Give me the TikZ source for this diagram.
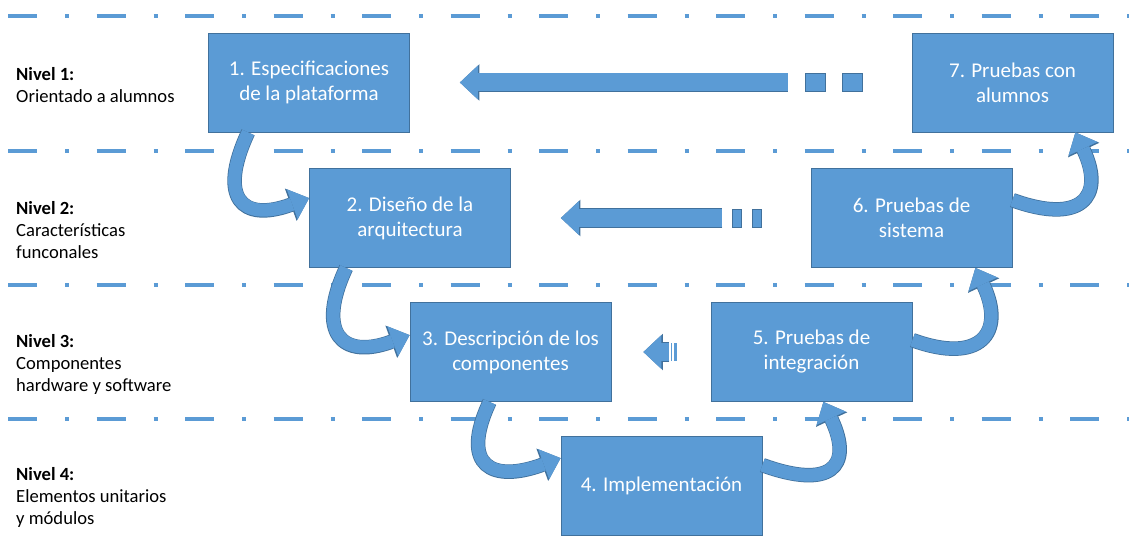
\documentclass[tikz,border=0pt]{standalone}
\usepackage{fontspec}
\setmainfont{Carlito}
\usetikzlibrary{positioning,calc,arrows.meta}
\definecolor{azul}{HTML}{5B9BD5}
\definecolor{azulosc}{HTML}{41719C}

\begin{document}
\begin{tikzpicture}[x=1pt,y=1pt,
   caja/.style={draw=azulosc,fill=azul,line width=0.8pt,text=white,align=center,minimum width=201pt,minimum height=99pt,inner sep=2pt,font=\fontsize{21}{25}\selectfont},
   nivel/.style={anchor=west,align=left,inner sep=0pt,font=\fontsize{18.6}{22}\selectfont},
   sep/.style={azul,line width=4pt,dash pattern=on 29pt off 28pt on 4pt off 27.5pt},
   cuad/.style={fill=azul,draw=azulosc,line width=0.5pt,minimum height=18pt,inner sep=0pt},
   flecha/.style={azul,line width=18pt,-{Triangle[width=34pt,length=18pt,line width=0pt]},
      preaction={draw=azulosc,line width=19.5pt,-{Triangle[width=36.5pt,length=19.5pt,line width=0pt]}}},
   curva/.style={azul,line width=13pt,-{Triangle[width=32pt,length=18pt,line width=0pt]},
      preaction={draw=azulosc,line width=14.5pt,-{Triangle[width=34.5pt,length=19.5pt,line width=0pt]}}},
   node distance=17pt]
	\useasboundingbox (0,0) rectangle (1129,-548);
	\foreach \y in {16,151,285,419}
		\draw[sep] (8,-\y) -- (1129,-\y);
	\node[nivel] (n1) at (16,-85) {\textbf{Nivel 1:}\\Orientado  a alumnos};
	\node[nivel] (n2) at (16,-230) {\textbf{Nivel 2:}\\Características\\funconales};
	\node[nivel] (n3) at (16,-364) {\textbf{Nivel 3:}\\Componentes\\hardware  y software};
	\node[nivel] (n4) at (16,-497) {\textbf{Nivel 4:}\\Elementos unitarios\\y módulos};
	\node[caja] (b1) at (309,-82.5) {1. Especificaciones\\de la plataforma};
	\node[caja] (b2) at (410,-218) {2. Diseño de la\\arquitectura};
	\node[caja] (b3) at (510.5,-352) {3. Descripción de los\\componentes};
	\node[caja] (b4) at (661.5,-486) {4. Implementación};
	\node[caja] (b5) at (811.5,-352) {5. Pruebas de\\integración};
	\node[caja] (b6) at (911.5,-218) {6. Pruebas de\\sistema};
	\node[caja] (b7) at (1012.5,-82.5) {7. Pruebas con\\alumnos};
	\node[cuad,minimum width=20pt] (q1a) at (815,-82.5) {};
	\node[cuad,minimum width=20pt,right=of q1a] (q1b) {};
	\coordinate[left=of q1a] (c1);
	\coordinate (t1) at ([xshift=50pt]b1.east);
	\draw[flecha] (c1) -- (t1);
	\node[cuad,minimum width=9pt] (q2a) at (737,-218) {};
	\node[cuad,minimum width=9pt,right=10pt of q2a] (q2b) {};
	\coordinate[left=10pt of q2a] (c2);
	\coordinate (t2) at ([xshift=50pt]b2.east);
	\draw[flecha] (c2) -- (t2);
	\coordinate (c3) at ([xshift=58pt]b3.east);
	\coordinate (t3) at ([xshift=32pt]b3.east);
	\draw[flecha] (c3) -- (t3);
	\fill[azul] ($(c3)+(1.5,-9)$) rectangle ++(1.5,18);
	\fill[azul] ($(c3)+(4.5,-9)$) rectangle ++(3.5,18);
	\draw[curva] ([xshift=40pt]b1.south west) .. controls +(-115:72) and +(200:72) .. ([yshift=-30pt]b2.north west);
	\draw[curva] ([xshift=37pt]b2.south west) .. controls +(-115:72) and +(200:72) .. ([yshift=-33pt]b3.north west);
	\draw[curva] ([xshift=80pt]b3.south west) .. controls +(-115:72) and +(200:72) .. ([yshift=-22pt]b4.north west);
	\draw[curva] ([yshift=-29pt]b4.north east) .. controls +(-20:72) and +(-65:72) .. ([xshift=-89pt]b5.south east);
	\draw[curva] ([yshift=-38pt]b5.north east) .. controls +(-20:72) and +(-65:72) .. ([xshift=-37pt]b6.south east);
	\draw[curva] ([yshift=-32pt]b6.north east) .. controls +(-20:72) and +(-65:72) .. ([xshift=-38pt]b7.south east);
\end{tikzpicture}
\end{document}
